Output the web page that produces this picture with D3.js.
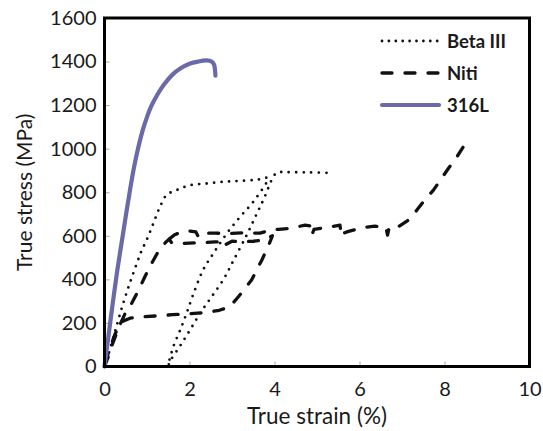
<!DOCTYPE html>
<html>
<head>
<meta charset="utf-8">
<script src="https://cdn.jsdelivr.net/npm/d3@7"></script>
<style>
  html, body { margin: 0; padding: 0; background: #fff; }
  svg text { font-family: Lato, "Open Sans", sans-serif; fill: #1a1a1a; }
</style>
</head>
<body>
<div id="chart"></div>
<script>
// Axis ticks
const xTicks = [0, 2, 4, 6, 8, 10];
const yTicks = [0, 200, 400, 600, 800, 1000, 1200, 1400, 1600];

// Beta III: load, unload to ~1.5 %, reload
const betaStrain = [0, 0.1, 0.29, 0.44, 0.6, 0.76, 0.87, 0.99, 1.15, 1.31, 1.46, 1.7, 2.01, 2.4, 2.8, 3.19, 3.6, 3.84,
  3.5, 3.19, 2.88, 2.56, 2.32, 2.09, 1.93, 1.78, 1.62, 1.5,
  1.56, 1.78, 2.01, 2.25, 2.52, 2.8, 3.03, 3.35, 3.58, 3.75, 3.97, 4.06, 4.3, 4.8, 5.31];
const betaStress = [0, 60, 190, 290, 385, 473, 530, 580, 657, 735, 787, 810, 832, 840, 848, 852, 858, 865,
  756, 687, 611, 519, 443, 332, 244, 167, 91, 5,
  30, 95, 167, 244, 320, 400, 485, 605, 700, 770, 870, 890, 892, 891, 889];

// Niti: first cycle (null = break), then reload to the end
const nitiStrain = [0, 0.1, 0.2, 0.36, 0.5, 0.64, 0.8, 0.95, 1.1, 1.3, 1.45, 1.52, 1.58, 1.8, 2.2, 2.6, 2.72, 2.76, 3.0, 3.27, 3.5, 3.75, 3.95,
  3.88, 3.7, 3.46, 3.15, 2.95, 2.7, 2.4, 2.0, 1.6, 1.2, 0.9, 0.6, 0.4, 0.25, 0.1, 0,
  null,
  1.52, 1.65, 1.78, 2.0, 2.15, 2.2, 2.25, 2.6, 2.95, 3.3, 3.66, 3.89, 4.1, 4.36, 4.72, 4.85, 4.88, 4.93, 5.31, 5.54, 5.58, 5.63, 5.7,
  6.09, 6.36, 6.62, 6.66, 6.7, 6.91, 7.15, 7.35, 7.5, 7.74, 7.89, 8.09, 8.25, 8.44, 8.6];
const nitiStress = [0, 50, 110, 190, 250, 290, 350, 412, 470, 540, 572, 585, 568, 565, 568, 572, 572, 550, 575, 573, 575, 580, 600,
  565, 488, 397, 320, 274, 258, 248, 242, 238, 232, 228, 222, 205, 150, 70, 0,
  null,
  585, 605, 615, 622, 618, 598, 612, 612, 611, 614, 612, 626, 630, 634, 649, 645, 603, 630, 641, 649, 597, 612, 618,
  638, 644, 641, 603, 640, 641, 672, 718, 756, 810, 852, 909, 950, 1008, 1047];

// 316L
const ssStrain = [0, 0.1, 0.2, 0.3, 0.4, 0.5, 0.6, 0.7, 0.8, 0.9, 1.0, 1.1, 1.25, 1.4, 1.6, 1.8, 2.0, 2.2, 2.4, 2.52, 2.58, 2.6, 2.61];
const ssStress = [0, 150, 300, 440, 565, 690, 810, 920, 1010, 1085, 1145, 1195, 1250, 1295, 1340, 1370, 1390, 1400, 1405, 1400, 1385, 1360, 1335];

const series = [
  { name: 'Beta III', xs: betaStrain, ys: betaStress, color: '#111', width: 2.8, dash: '0,7.5', legendDash: '0,6.9', curve: d3.curveCatmullRom.alpha(0.5) },
  { name: 'Niti', xs: nitiStrain, ys: nitiStress, color: '#111', width: 3.3, dash: '10,13', legendDash: '10,13', curve: d3.curveLinear },
  { name: '316L', xs: ssStrain, ys: ssStress, color: '#6a6aa8', width: 4.2, dash: null, legendDash: null, curve: d3.curveCatmullRom.alpha(0.5) }
];

const W = 543, H = 431;
const margin = { top: 18, right: 13.5, bottom: 64.5, left: 104.5 };
const width = W - margin.left - margin.right;
const height = H - margin.top - margin.bottom;

const svg = d3.select('#chart').append('svg')
  .attr('width', W)
  .attr('height', H);

const g = svg.append('g')
  .attr('transform', `translate(${margin.left},${margin.top})`);

const x = d3.scaleLinear().domain([0, 10]).range([0, width]);
const y = d3.scaleLinear().domain([0, 1600]).range([height, 0]);

// X axis, ticks point inward
const xAxis = g.append('g')
  .attr('transform', `translate(0,${height})`)
  .call(d3.axisBottom(x).tickValues(xTicks).tickFormat(d3.format('d')).tickSize(-5).tickPadding(15));
xAxis.select('.domain').remove();
xAxis.selectAll('line').attr('stroke', '#a6a6a6');
xAxis.selectAll('text').style('font-size', '20px');

// Y axis
const yAxis = g.append('g')
  .call(d3.axisLeft(y).tickValues(yTicks).tickFormat(d3.format('d')).tickSize(-5).tickPadding(8));
yAxis.select('.domain').remove();
yAxis.selectAll('line').attr('stroke', '#a6a6a6');
yAxis.selectAll('text').style('font-size', '20px');

// Curves
series.forEach(s => {
  const pts = s.xs.map((v, i) => [v, s.ys[i]]);
  const line = d3.line()
    .defined(d => d[0] !== null && d[1] !== null)
    .x(d => x(d[0]))
    .y(d => y(d[1]))
    .curve(s.curve);
  g.append('path')
    .datum(pts)
    .attr('fill', 'none')
    .attr('stroke', s.color)
    .attr('stroke-width', s.width)
    .attr('stroke-linecap', 'round')
    .attr('stroke-linejoin', 'round')
    .attr('stroke-dasharray', s.dash)
    .attr('d', line);
});

// Frame
g.append('rect')
  .attr('x', 0).attr('y', 0)
  .attr('width', width).attr('height', height)
  .attr('fill', 'none')
  .attr('stroke', '#000')
  .attr('stroke-width', 3);

// Legend
const legend = svg.append('g').attr('transform', 'translate(382,41)');
series.forEach((s, i) => {
  const row = legend.append('g').attr('transform', `translate(0,${i * 32})`);
  row.append('line')
    .attr('x1', 0).attr('x2', 57)
    .attr('y1', 0).attr('y2', 0)
    .attr('stroke', s.color)
    .attr('stroke-width', s.width)
    .attr('stroke-linecap', 'round')
    .attr('stroke-dasharray', s.legendDash);
  row.append('text')
    .attr('x', 65)
    .attr('dy', '0.36em')
    .style('font-size', '18.5px')
    .style('font-weight', 'bold')
    .text(s.name);
});

// Axis titles
svg.append('text')
  .attr('x', margin.left + width / 2)
  .attr('y', 424)
  .attr('text-anchor', 'middle')
  .style('font-size', '22.5px')
  .text('True strain (%)');

svg.append('text')
  .attr('transform', `translate(32,${margin.top + height / 2}) rotate(-90)`)
  .attr('text-anchor', 'middle')
  .style('font-size', '21px')
  .text('True stress (MPa)');
</script>
</body>
</html>
